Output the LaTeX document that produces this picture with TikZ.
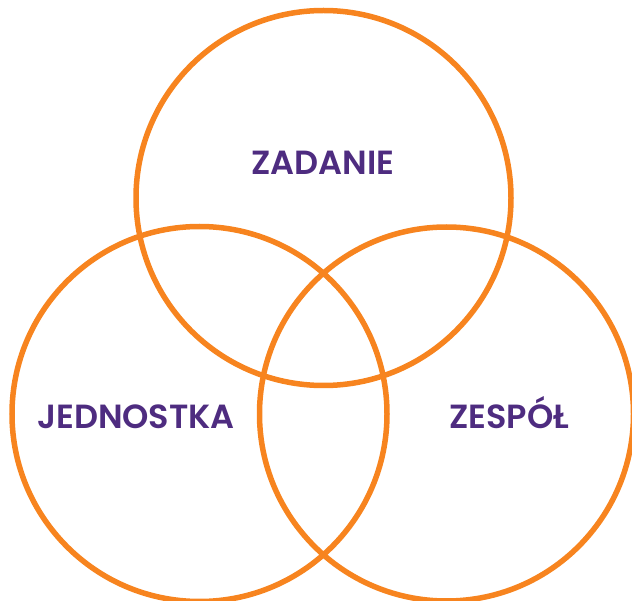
\documentclass[tikz,border=0pt]{standalone}
\usepackage{fontspec}
\newfontfamily\pop{Poppins SemiBold}
\definecolor{ring}{HTML}{F7841F}
\definecolor{lab}{HTML}{4E2C80}
\tikzset{
  ringc/.style={draw=ring, line width=5.5pt},
  lbl/.style={text=lab, font=\pop\fontsize{33.5}{36}\selectfont, inner sep=0pt, anchor=base}
}
\begin{document}
\begin{tikzpicture}[x=1pt,y=-1pt]
\useasboundingbox (0,0) rectangle (632,601);
\node[ringc, circle, minimum size=375pt, inner sep=0pt] (top) at (323.5,198) {};
\node[ringc, circle, minimum size=375pt, inner sep=0pt] (left) at (199.5,414) {};
\node[ringc, circle, minimum size=374pt, inner sep=0pt] (right) at (446.5,414) {};
\node[lbl] (t1) at (323,175) {ZADANIE};
\node[lbl] (t2) at (136,429) {JEDNOSTKA};
\node[lbl] (t3) at (509,429) {ZESPÓŁ};
\end{tikzpicture}
\end{document}
